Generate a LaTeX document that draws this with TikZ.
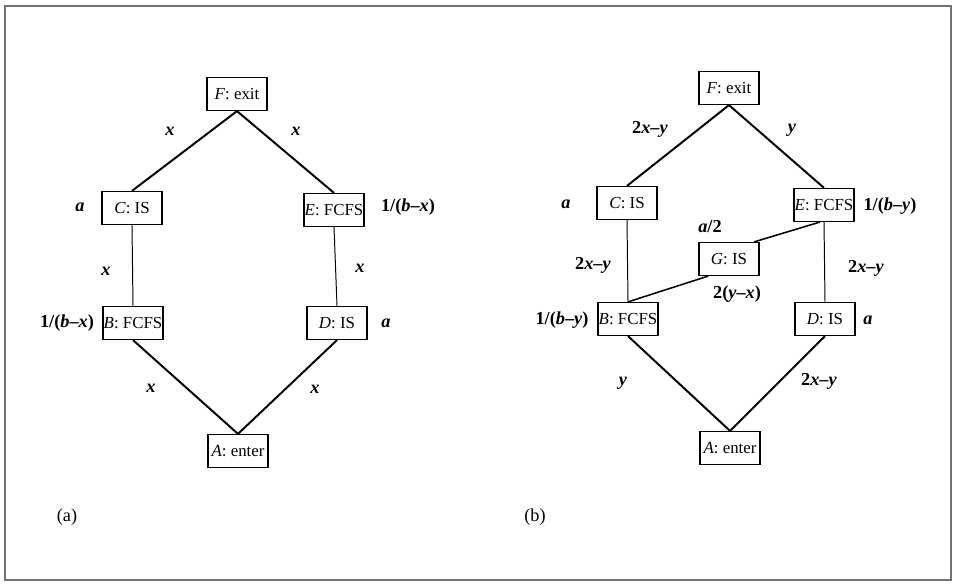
\documentclass[tikz,border=0pt]{standalone}
\usepackage{fontspec}
\setmainfont{Liberation Serif}
\begin{document}
\begin{tikzpicture}[
    station/.style={draw, line width=1pt, minimum width=1.5cm, minimum height=0.82cm, inner sep=0pt, font=\fontsize{12}{14}\selectfont},
    rate/.style={font=\fontsize{13}{15}\selectfont\bfseries},
    diag/.style={line width=1.4pt},
    vert/.style={line width=0.7pt}]
    \useasboundingbox (0,0) rectangle (23.875,14.575);
    \draw[black!55, line width=1pt] (0.125,0.075) rectangle (23.775,14.425);

    % --- (a): two separate routes ---
    \node[station] (aF) at (5.925,12.225) {\textit{F}: exit};
    \node[station] (aC) at (3.3,9.375) {\textit{C}: IS};
    \node[station] (aE) at (8.35,9.325) {\textit{E}: FCFS};
    \node[station] (aB) at (3.325,6.5) {\textit{B}: FCFS};
    \node[station] (aD) at (8.425,6.5) {\textit{D}: IS};
    \node[station] (aA) at (5.95,3.3) {\textit{A}: enter};
    \draw[diag] (aF.south) -- (aC.north);
    \draw[diag] (aF.south) -- (aE.north);
    \draw[vert] (aC.south) -- (aB.north);
    \draw[vert] (aE.south) -- (aD.north);
    \draw[diag] (aB.south) -- (aA.north);
    \draw[diag] (aD.south) -- (aA.north);

    \node[rate] (aLfc) at (4.25,11.3) {\textit{x}};
    \node[rate] (aLfe) at (7.4,11.3) {\textit{x}};
    \node[rate] (aLc) at (2.0,9.4) {\textit{a}};
    \node[rate] (aLe) at (10.2,9.4) {1/(\textit{b}–\textit{x})};
    \node[rate] (aLcb) at (2.65,7.8) {\textit{x}};
    \node[rate] (aLed) at (9.0,7.875) {\textit{x}};
    \node[rate] (aLb) at (1.675,6.5) {1/(\textit{b}–\textit{x})};
    \node[rate] (aLd) at (9.65,6.5) {\textit{a}};
    \node[rate] (aLba) at (3.775,4.875) {\textit{x}};
    \node[rate] (aLda) at (7.875,4.85) {\textit{x}};
    \node[font=\fontsize{13}{15}\selectfont] (acap) at (1.675,1.65) {(a)};

    % --- (b): routes joined through G ---
    \node[station] (bF) at (18.225,12.375) {\textit{F}: exit};
    \node[station] (bC) at (15.675,9.5) {\textit{C}: IS};
    \node[station] (bE) at (20.6,9.45) {\textit{E}: FCFS};
    \node[station] (bG) at (18.225,8.1) {\textit{G}: IS};
    \node[station] (bB) at (15.7,6.6) {\textit{B}: FCFS};
    \node[station] (bD) at (20.625,6.6) {\textit{D}: IS};
    \node[station] (bA) at (18.25,3.375) {\textit{A}: enter};
    \draw[diag] (bF.south) -- (bC.north);
    \draw[diag] (bF.south) -- (bE.north);
    \draw[vert] (bC.south) -- (bB.north);
    \draw[vert] (bE.south) -- (bD.north);
    \draw[diag] (bB.south) -- (bA.north);
    \draw[diag] (bD.south) -- (bA.north);
    \draw[line width=1.1pt] ([xshift=-3pt]bE.south) -- ([xshift=-4pt]bG.north east);
    \draw[line width=1.1pt] ([xshift=7pt]bG.south west) -- (bB.north);

    \node[rate] (bLfc) at (16.25,11.35) {2\textit{x}–\textit{y}};
    \node[rate] (bLfe) at (19.8,11.325) {\textit{y}};
    \node[rate] (bLc) at (14.15,9.475) {\textit{a}};
    \node[rate] (bLe) at (22.25,9.425) {1/(\textit{b}–\textit{y})};
    \node[rate] (bLg) at (17.75,8.9) {\textit{a}/2};
    \node[rate] (bLcb) at (14.825,7.95) {2\textit{x}–\textit{y}};
    \node[rate] (bLed) at (21.65,7.875) {2\textit{x}–\textit{y}};
    \node[rate] (bLgb) at (18.425,7.225) {2(\textit{y}–\textit{x})};
    \node[rate] (bLb) at (14.05,6.575) {1/(\textit{b}–\textit{y})};
    \node[rate] (bLd) at (21.7,6.575) {\textit{a}};
    \node[rate] (bLba) at (15.575,5.0) {\textit{y}};
    \node[rate] (bLda) at (20.475,5.05) {2\textit{x}–\textit{y}};
    \node[font=\fontsize{13}{15}\selectfont] (bcap) at (13.375,1.65) {(b)};
\end{tikzpicture}
\end{document}
